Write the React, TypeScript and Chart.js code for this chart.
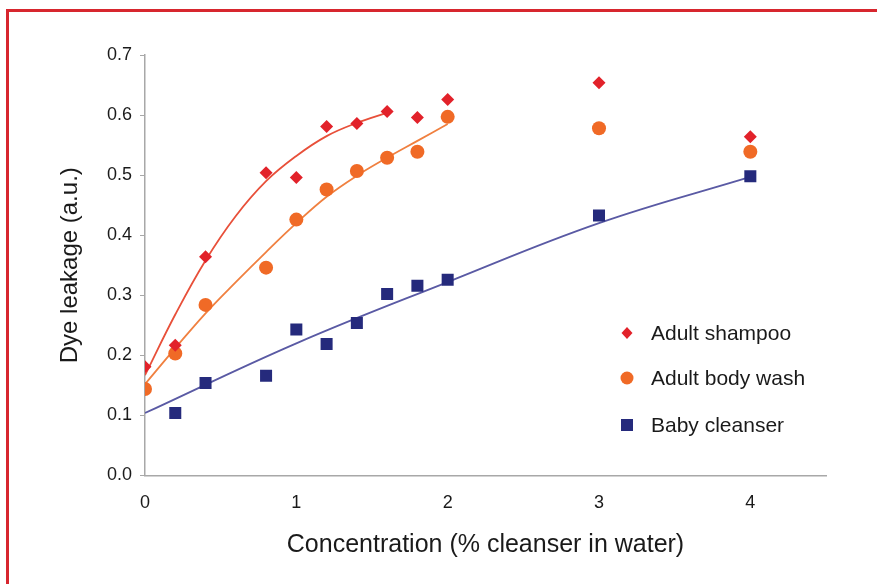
import React, { useEffect, useRef } from "react";
import { Chart, registerables } from "chart.js";

Chart.register(...registerables);

// ---- data ----
const concentrations = [0, 0.2, 0.4, 0.8, 1.0, 1.2, 1.4, 1.6, 1.8, 2.0, 3, 4];
const shampooValues = [0.181, 0.217, 0.364, 0.504, 0.496, 0.581, 0.586, 0.606, 0.596, 0.626, 0.654, 0.564];
const bodyWashValues = [0.144, 0.203, 0.284, 0.346, 0.426, 0.476, 0.507, 0.529, 0.539, 0.597, 0.578, 0.539];
const babyX = [0.2, 0.4, 0.8, 1.0, 1.2, 1.4, 1.6, 1.8, 2.0, 3, 4];
const babyValues = [0.104, 0.154, 0.166, 0.243, 0.219, 0.254, 0.302, 0.316, 0.326, 0.433, 0.498];

// trend lines
const shampooTrendX = [0, 0.2, 0.4, 0.6, 0.8, 1.0, 1.2, 1.4, 1.6];
const shampooTrendY = [0.167, 0.268, 0.358, 0.432, 0.49, 0.532, 0.565, 0.587, 0.604];
const bodyWashTrendX = [0, 0.2, 0.4, 0.6, 0.8, 1.0, 1.2, 1.4, 1.6, 1.8, 2.0];
const bodyWashTrendY = [0.152, 0.212, 0.27, 0.322, 0.372, 0.42, 0.464, 0.499, 0.529, 0.557, 0.585];
const babyTrendX = [0, 1, 2, 3, 4];
const babyTrendY = [0.104, 0.22, 0.322, 0.42, 0.497];

const seriesNames = ["Adult shampoo", "Adult body wash", "Baby cleanser"];
const yTicks = [0, 0.1, 0.2, 0.3, 0.4, 0.5, 0.6, 0.7];
const xTicks = [0, 1, 2, 3, 4];

const RED = "#e2222a";
const ORANGE = "#f06a26";
const NAVY = "#252a7c";
const RED_LINE = "#e8503a";
const ORANGE_LINE = "#f08040";
const BLUE_LINE = "#5a5aa4";
const FONT = "'Liberation Sans', Arial, Helvetica, sans-serif";

const pts = (xs: number[], ys: number[]) => xs.map((x, i) => ({ x, y: ys[i] }));

const legendPlugin = {
  id: "insideLegend",
  afterDatasetsDraw(chart: any) {
    const { ctx, chartArea } = chart;
    const markerX = chartArea.left + 482;
    const textX = chartArea.left + 506;
    const rows = [chartArea.top + 278, chartArea.top + 323, chartArea.top + 370];
    ctx.save();
    ctx.font = `21px ${FONT}`;
    ctx.textBaseline = "middle";
    ctx.textAlign = "left";
    rows.forEach((y, i) => {
      ctx.beginPath();
      if (i === 0) {
        ctx.fillStyle = RED;
        ctx.moveTo(markerX, y - 6);
        ctx.lineTo(markerX + 5.5, y);
        ctx.lineTo(markerX, y + 6);
        ctx.lineTo(markerX - 5.5, y);
        ctx.closePath();
        ctx.fill();
      } else if (i === 1) {
        ctx.fillStyle = ORANGE;
        ctx.arc(markerX, y, 6.5, 0, Math.PI * 2);
        ctx.fill();
      } else {
        ctx.fillStyle = NAVY;
        ctx.fillRect(markerX - 6, y - 6, 12, 12);
      }
      ctx.fillStyle = "#1a1a1a";
      ctx.fillText(seriesNames[i], textX, y + 1);
    });
    ctx.restore();
  },
};

export default function App() {
  const ref = useRef<HTMLCanvasElement | null>(null);
  useEffect(() => {
    if (!ref.current) return;
    const trend = (label: string, xs: number[], ys: number[], color: string) => ({
      label,
      data: pts(xs, ys),
      showLine: true,
      pointRadius: 0,
      borderColor: color,
      borderWidth: 1.8,
      tension: 0.4,
      order: 1,
    });
    const chart = new Chart(ref.current, {
      type: "scatter",
      data: {
        datasets: [
          {
            label: seriesNames[0],
            data: pts(concentrations, shampooValues),
            pointStyle: "rectRot",
            pointRadius: 6.5,
            backgroundColor: RED,
            borderWidth: 0,
            showLine: false,
            order: 0,
          },
          {
            label: seriesNames[1],
            data: pts(concentrations, bodyWashValues),
            pointStyle: "circle",
            pointRadius: 7,
            backgroundColor: ORANGE,
            borderWidth: 0,
            showLine: false,
            order: 0,
          },
          {
            label: seriesNames[2],
            data: pts(babyX, babyValues),
            pointStyle: "rect",
            pointRadius: 8.5,
            backgroundColor: NAVY,
            borderWidth: 0,
            showLine: false,
            order: 0,
          },
          trend("shampoo trend", shampooTrendX, shampooTrendY, RED_LINE),
          trend("body wash trend", bodyWashTrendX, bodyWashTrendY, ORANGE_LINE),
          trend("baby trend", babyTrendX, babyTrendY, BLUE_LINE),
        ] as any,
      },
      options: {
        animation: false,
        responsive: false,
        layout: { padding: { top: 55, right: 51, bottom: 0, left: 0 } },
        plugins: { legend: { display: false }, tooltip: { enabled: false } },
        scales: {
          x: {
            type: "linear",
            min: 0,
            max: 4.5,
            afterBuildTicks: (scale: any) => {
              scale.ticks = xTicks.map((v) => ({ value: v }));
            },
            afterFit: (scale: any) => {
              scale.height = 108.5;
            },
            border: { display: true, color: "#a8a8a8", width: 1.5 },
            grid: { display: false, drawOnChartArea: false, drawTicks: true, tickLength: 6, color: "#a8a8a8" },
            ticks: {
              padding: 11,
              color: "#1a1a1a",
              font: { family: FONT, size: 18 },
              callback: (v: any) => String(v),
            },
            title: {
              display: true,
              text: "Concentration (% cleanser in water)",
              color: "#1a1a1a",
              font: { family: FONT, size: 25 },
              padding: { top: 0, bottom: 24 },
            },
          },
          y: {
            type: "linear",
            min: 0,
            max: 0.7,
            afterBuildTicks: (scale: any) => {
              scale.ticks = yTicks.map((v) => ({ value: v }));
            },
            afterFit: (scale: any) => {
              scale.width = 145;
            },
            border: { display: true, color: "#a8a8a8", width: 1.5 },
            grid: { display: true, drawOnChartArea: false, drawTicks: true, tickLength: 5, color: "#a8a8a8" },
            ticks: {
              padding: 8,
              color: "#1a1a1a",
              font: { family: FONT, size: 18 },
              callback: (v: any) => Number(v).toFixed(1),
            },
            title: {
              display: true,
              text: "Dye leakage (a.u.)",
              color: "#1a1a1a",
              font: { family: FONT, size: 24 },
              padding: { top: 55.6, bottom: 0 },
            },
          },
        },
      },
      plugins: [legendPlugin],
    });
    return () => chart.destroy();
  }, []);

  return (
    <div style={{ position: "fixed", left: 0, top: 0, width: 877, height: 584, background: "#fff", overflow: "hidden" }}>
      <div
        style={{
          position: "absolute",
          left: 6,
          top: 9,
          width: 900,
          height: 600,
          borderTop: "3px solid #d7262e",
          borderLeft: "3px solid #d7262e",
          boxSizing: "border-box",
        }}
      />
      <canvas ref={ref} width={877} height={584} style={{ position: "absolute", left: 0, top: 0, display: "block" }} />
    </div>
  );
}
